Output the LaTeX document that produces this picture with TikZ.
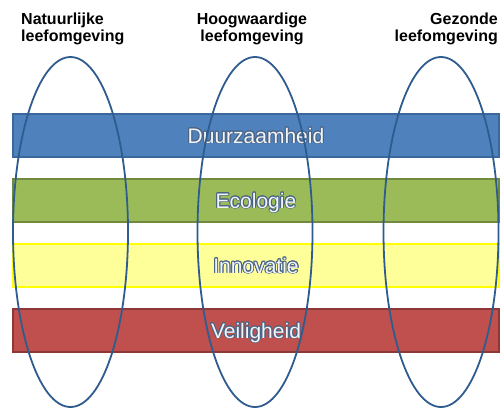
\documentclass[tikz,border=0pt]{standalone}
\usepackage{fontspec}
\setmainfont{Liberation Sans}
\usepackage{contour}
\usepackage{tikz}
\usetikzlibrary{shapes.geometric}

\definecolor{barblue}{HTML}{4F81BD}
\definecolor{barblueline}{HTML}{3A679C}
\definecolor{bargreen}{HTML}{9BBB59}
\definecolor{bargreenline}{HTML}{71893F}
\definecolor{baryellow}{HTML}{FFFF99}
\definecolor{baryellowline}{HTML}{FFFF00}
\definecolor{barred}{HTML}{C0504D}
\definecolor{barredline}{HTML}{8C3836}
\definecolor{ringblue}{HTML}{2E5C8F}
\definecolor{labelfill}{HTML}{F2F4F8}
\definecolor{labelline}{HTML}{4A6585}

\contourlength{0.9pt}
\newcommand{\barlabel}[1]{\contour{labelline}{\textcolor{labelfill}{#1}}}

\begin{document}
\begin{tikzpicture}[every node/.style={inner sep=0pt}, x=1pt, y=-1pt,
  bar/.style={draw, line width=1.2pt, minimum width=486pt, minimum height=43pt, text height=15pt, text depth=0pt, font=\fontsize{21}{21}\selectfont},
  ring/.style={ellipse, draw=ringblue, line width=1.8pt, minimum width=115pt, minimum height=350pt},
  head/.style={font=\bfseries\fontsize{16}{17}\selectfont}]
\useasboundingbox (0,0) rectangle (502,408);
\node[head, anchor=north west, align=left] (8) at (21, 12.5) {Natuurlijke\\leefomgeving};
\node[head, anchor=north, align=center] (9) at (252, 12.5) {Hoogwaardige\\leefomgeving};
\node[head, anchor=north east, align=right] (10) at (498, 12.5) {Gezonde\\leefomgeving};
\node[bar, fill=barblue, draw=barblueline] (1) at (256, 135.5) {\barlabel{Duurzaamheid}};
\node[bar, fill=bargreen, draw=bargreenline] (2) at (256, 200.5) {\barlabel{Ecologie}};
\node[bar, fill=baryellow, draw=baryellowline, line width=2pt] (3) at (256, 265.5) {\barlabel{Innovatie}};
\node[bar, fill=barred, draw=barredline] (4) at (256, 330.5) {\barlabel{Veiligheid}};
%% pijlers over de balken
\node[ring] (5) at (70.5, 232) {};
\node[ring] (6) at (255, 232) {};
\node[ring] (7) at (441, 232) {};
\end{tikzpicture}
\end{document}
